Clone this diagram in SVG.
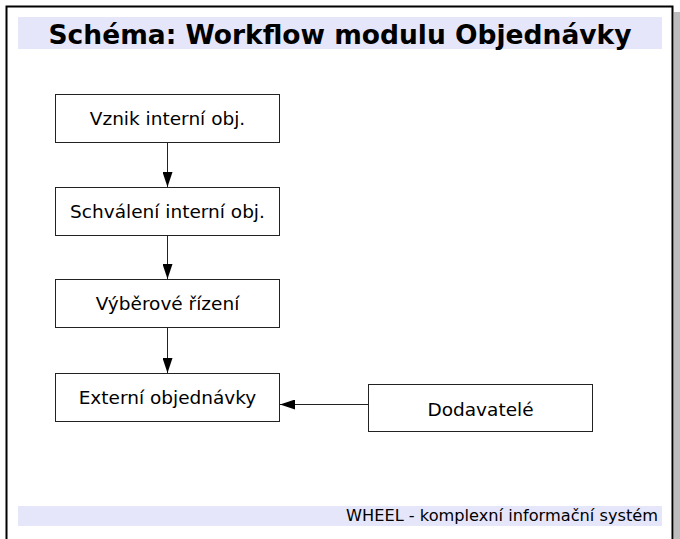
<svg xmlns="http://www.w3.org/2000/svg" width="680" height="539" viewBox="0 0 680 539">
<defs>
<style>
.box{fill:#ffffff;stroke:#222222;stroke-width:1}
.lbl{font-family:"DejaVu Sans",Verdana,sans-serif;font-size:18.5px;fill:#000;text-anchor:middle}
.edge{stroke:#222222;stroke-width:1;fill:none}
</style>
<marker id="arr" markerWidth="15" markerHeight="10" refX="15" refY="5" orient="auto" markerUnits="userSpaceOnUse">
<path d="M0,0 L15,5 L0,10 Z" fill="#000"/>
</marker>
</defs>
<rect x="0" y="0" width="680" height="539" fill="#ffffff"/>
<rect x="674" y="12" width="6" height="527" fill="#bdbdbd"/>
<path d="M6.5,545 V6.5 H672.5 V545" fill="none" stroke="#000" stroke-width="2"/>
<g id="title">
<rect x="18" y="17" width="644" height="32" fill="#e6e6fa"/>
<text x="340" y="44" font-family="'DejaVu Sans',Verdana,sans-serif" font-size="26.5" font-weight="bold" text-anchor="middle">Schéma: Workflow modulu Objednávky</text>
</g>
<g id="footer">
<rect x="18" y="506" width="644" height="20" fill="#e6e6fa"/>
<text x="658" y="521" font-family="'DejaVu Sans',Verdana,sans-serif" font-size="16.2" text-anchor="end">WHEEL - komplexní informační systém</text>
</g>
<g id="n1"><rect class="box" x="55.5" y="94.5" width="224" height="48"/><text class="lbl" x="167.5" y="125">Vznik interní obj.</text></g>
<g id="n2"><rect class="box" x="55.5" y="187.5" width="224" height="48"/><text class="lbl" x="167.5" y="218">Schválení interní obj.</text></g>
<g id="n3"><rect class="box" x="55.5" y="279.5" width="224" height="48"/><text class="lbl" x="167.5" y="310">Výběrové řízení</text></g>
<g id="n4"><rect class="box" x="55.5" y="373.5" width="224" height="48"/><text class="lbl" x="167.5" y="404">Externí objednávky</text></g>
<g id="n5"><rect class="box" x="368.5" y="384.5" width="224" height="47"/><text class="lbl" x="480.5" y="416">Dodavatelé</text></g>
<g id="edges">
<line class="edge" x1="167.5" y1="143" x2="167.5" y2="187" marker-end="url(#arr)"/>
<line class="edge" x1="167.5" y1="236" x2="167.5" y2="279" marker-end="url(#arr)"/>
<line class="edge" x1="167.5" y1="328" x2="167.5" y2="373" marker-end="url(#arr)"/>
<line class="edge" x1="368" y1="404.5" x2="280" y2="404.5" stroke="#555" marker-end="url(#arr)"/>
</g>
</svg>
